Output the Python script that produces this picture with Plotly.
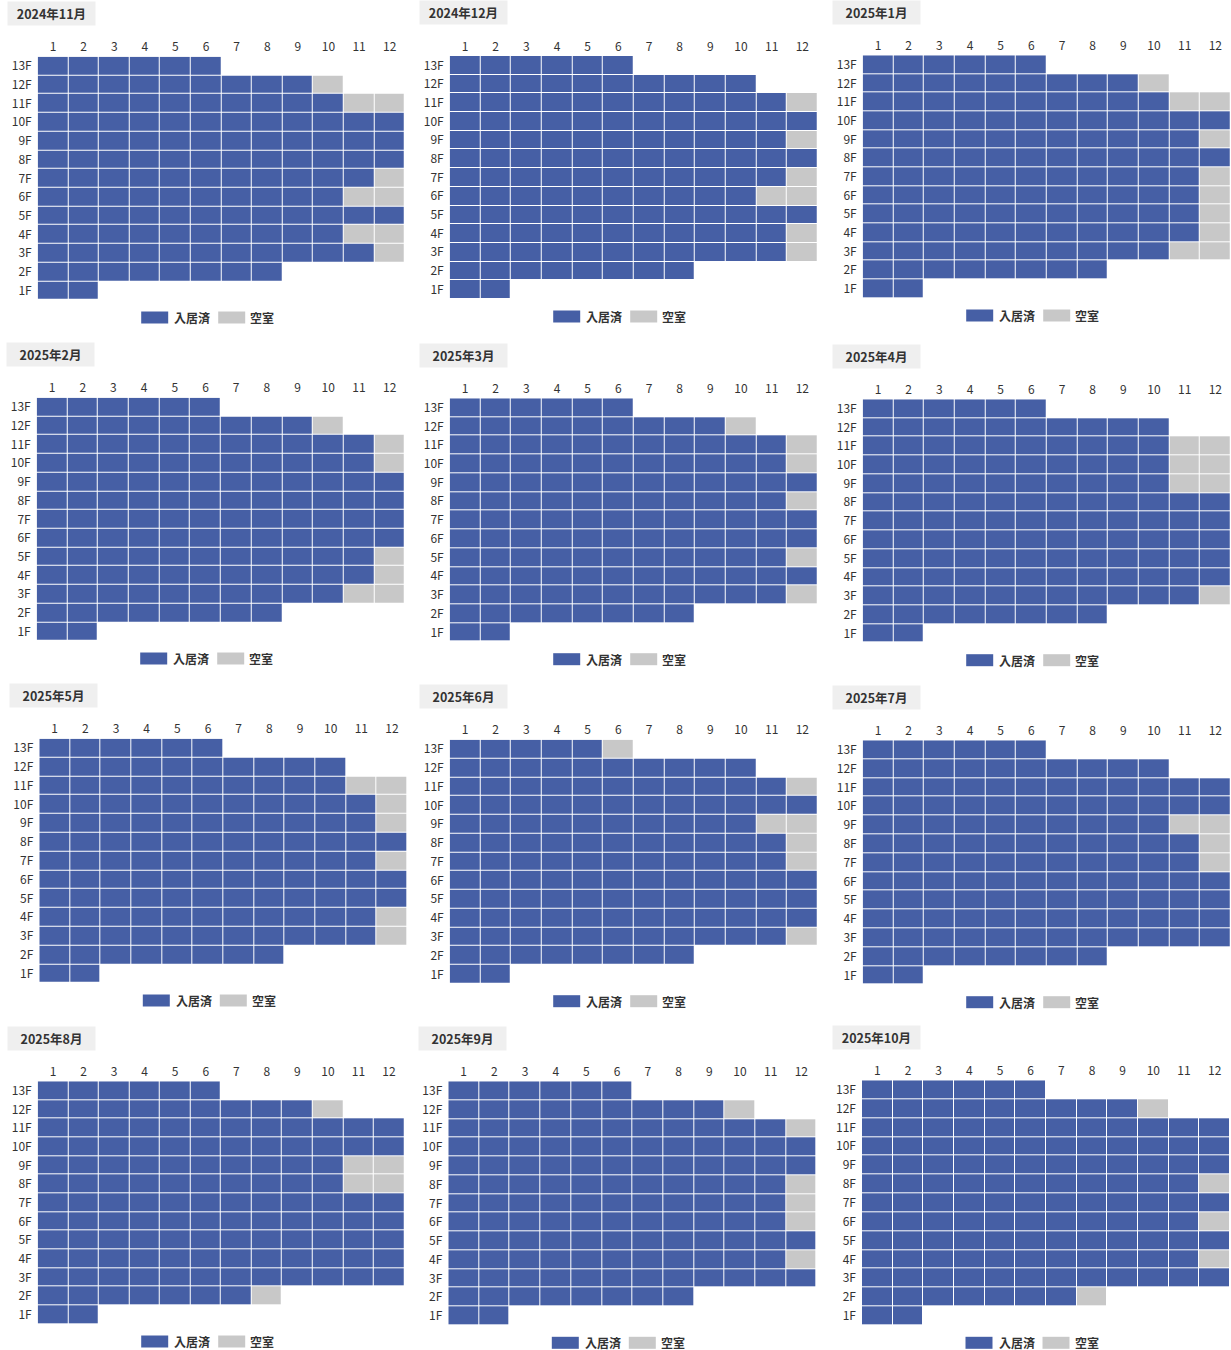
import plotly.graph_objects as go

# ---------------- data ----------------
months = ["2024年11月", "2024年12月", "2025年1月", "2025年2月", "2025年3月", "2025年4月",
          "2025年5月", "2025年6月", "2025年7月", "2025年8月", "2025年9月", "2025年10月"]
floors = ["1F", "2F", "3F", "4F", "5F", "6F", "7F", "8F", "9F", "10F", "11F", "12F", "13F"]
units = [1, 2, 3, 4, 5, 6, 7, 8, 9, 10, 11, 12]
units_per_floor = [2, 8, 12, 12, 12, 12, 12, 12, 12, 12, 12, 10, 6]  # 1F .. 13F

# vacant rooms (floor, unit) per month
vacant_2024_11 = [("12F", 10), ("11F", 11), ("11F", 12), ("7F", 12), ("6F", 11), ("6F", 12),
                  ("4F", 11), ("4F", 12), ("3F", 12)]
vacant_2024_12 = [("11F", 12), ("9F", 12), ("7F", 12), ("6F", 11), ("6F", 12), ("4F", 12), ("3F", 12)]
vacant_2025_01 = [("12F", 10), ("11F", 11), ("11F", 12), ("9F", 12), ("7F", 12), ("6F", 12),
                  ("5F", 12), ("4F", 12), ("3F", 11), ("3F", 12)]
vacant_2025_02 = [("12F", 10), ("11F", 12), ("10F", 12), ("5F", 12), ("4F", 12), ("3F", 11), ("3F", 12)]
vacant_2025_03 = [("12F", 10), ("11F", 12), ("10F", 12), ("8F", 12), ("5F", 12), ("3F", 12)]
vacant_2025_04 = [("11F", 11), ("11F", 12), ("10F", 11), ("10F", 12), ("9F", 11), ("9F", 12), ("3F", 12)]
vacant_2025_05 = [("11F", 11), ("11F", 12), ("10F", 12), ("9F", 12), ("7F", 12), ("4F", 12), ("3F", 12)]
vacant_2025_06 = [("13F", 6), ("11F", 12), ("9F", 11), ("9F", 12), ("8F", 12), ("7F", 12), ("3F", 12)]
vacant_2025_07 = [("9F", 11), ("9F", 12), ("8F", 12), ("7F", 12)]
vacant_2025_08 = [("12F", 10), ("9F", 11), ("9F", 12), ("8F", 11), ("8F", 12), ("2F", 8)]
vacant_2025_09 = [("12F", 10), ("11F", 12), ("8F", 12), ("7F", 12), ("6F", 12), ("4F", 12)]
vacant_2025_10 = [("12F", 10), ("8F", 12), ("6F", 12), ("4F", 12), ("2F", 8)]

vacancies = [vacant_2024_11, vacant_2024_12, vacant_2025_01, vacant_2025_02,
             vacant_2025_03, vacant_2025_04, vacant_2025_05, vacant_2025_06,
             vacant_2025_07, vacant_2025_08, vacant_2025_09, vacant_2025_10]

legend_labels = ["入居済", "空室"]

# ---------------- style ----------------
W, H = 1231, 1350
BLUE = "#465FA5"
GREY = "#C8C8C8"
FONT = "Noto Sans CJK JP"
TXT = "#333333"

# panel grid boxes in pixels: left, right, top, bottom
panels_px = [
    (37.7, 405.0, 56.7, 300.0), (449.7, 817.7, 56.0, 299.0), (862.7, 1230.7, 55.3, 298.0),
    (36.7, 405.0, 397.7, 641.0), (449.7, 817.7, 398.3, 641.7), (862.7, 1230.7, 399.3, 642.7),
    (39.3, 407.3, 738.7, 983.0), (449.7, 817.7, 739.7, 983.7), (862.7, 1230.7, 740.3, 984.7),
    (37.7, 404.3, 1081.3, 1324.0), (448.3, 816.7, 1081.3, 1325.3), (862.0, 1230.0, 1080.3, 1325.3),
]

def px(x):
    return x / W

def py(y):
    return 1 - y / H

fig = go.Figure()
layout = {}
annotations = []
shapes = []

for i, (month, vac) in enumerate(zip(months, vacancies)):
    n = i + 1
    sfx = "" if n == 1 else str(n)
    vac_set = set(vac)
    z = []
    for fi, fl in enumerate(floors):
        row = []
        for u in units:
            if u <= units_per_floor[fi]:
                row.append(0 if (fl, u) in vac_set else 1)
            else:
                row.append(None)
        z.append(row)
    fig.add_trace(go.Heatmap(
        x=units, y=list(range(1, len(floors) + 1)), z=z,
        zmin=0, zmax=1,
        colorscale=[[0, GREY], [0.5, GREY], [0.5, BLUE], [1, BLUE]],
        showscale=False, xgap=1, ygap=1,
        xaxis="x" + sfx, yaxis="y" + sfx,
        customdata=[[fl] * len(units) for fl in floors],
        hovertemplate="%{customdata} - %{x}<extra></extra>",
    ))
    l, r, t, b = panels_px[i]
    layout["xaxis" + sfx] = dict(
        domain=[px(l), px(r)], range=[0.5, 12.5], anchor="y" + sfx,
        tickvals=units, ticktext=[str(u) for u in units], side="top",
        showgrid=False, zeroline=False, showline=False, ticks="",
        ticklabelstandoff=2,
        tickfont=dict(family=FONT, size=12, color=TXT), fixedrange=True,
    )
    layout["yaxis" + sfx] = dict(
        domain=[py(b), py(t)], range=[0.5, 13.5], anchor="x" + sfx,
        tickvals=list(range(1, len(floors) + 1)), ticktext=floors,
        showgrid=False, zeroline=False, showline=False, ticks="",
        ticklabelstandoff=5,
        tickfont=dict(family=FONT, size=12, color=TXT), fixedrange=True,
    )
    # title box
    annotations.append(dict(
        xref="paper", yref="paper", x=px(l - 30.5), y=py(t - 30.5),
        xanchor="left", yanchor="bottom", showarrow=False,
        text="<b>" + month + "</b>", width=85, height=21, borderpad=1,
        bgcolor="#EFEFEF", align="center", valign="middle",
        font=dict(family=FONT, size=12.5, color=TXT),
    ))
    # legend
    ly = b + 17.5
    for off, col, lab, toff in [(103.5, BLUE, legend_labels[0], 134.5),
                                (180.5, GREY, legend_labels[1], 210.5)]:
        shapes.append(dict(type="rect", xref="paper", yref="paper",
                           x0=px(l + off), x1=px(l + off + 27),
                           y0=py(ly + 6), y1=py(ly - 6),
                           fillcolor=col, line=dict(width=0)))
        annotations.append(dict(
            xref="paper", yref="paper", x=px(l + toff), y=py(ly),
            xanchor="left", yanchor="middle", showarrow=False,
            text="<b>" + lab + "</b>",
            font=dict(family=FONT, size=12, color=TXT),
        ))

fig.update_layout(
    width=W, height=H, autosize=False,
    margin=dict(l=0, r=0, t=0, b=0),
    paper_bgcolor="white", plot_bgcolor="white",
    showlegend=False,
    annotations=annotations, shapes=shapes,
    font=dict(family=FONT, color=TXT),
    **layout,
)

fig.write_html("out.html", config={"displayModeBar": False},
               post_script="document.body.style.margin='0px';")
